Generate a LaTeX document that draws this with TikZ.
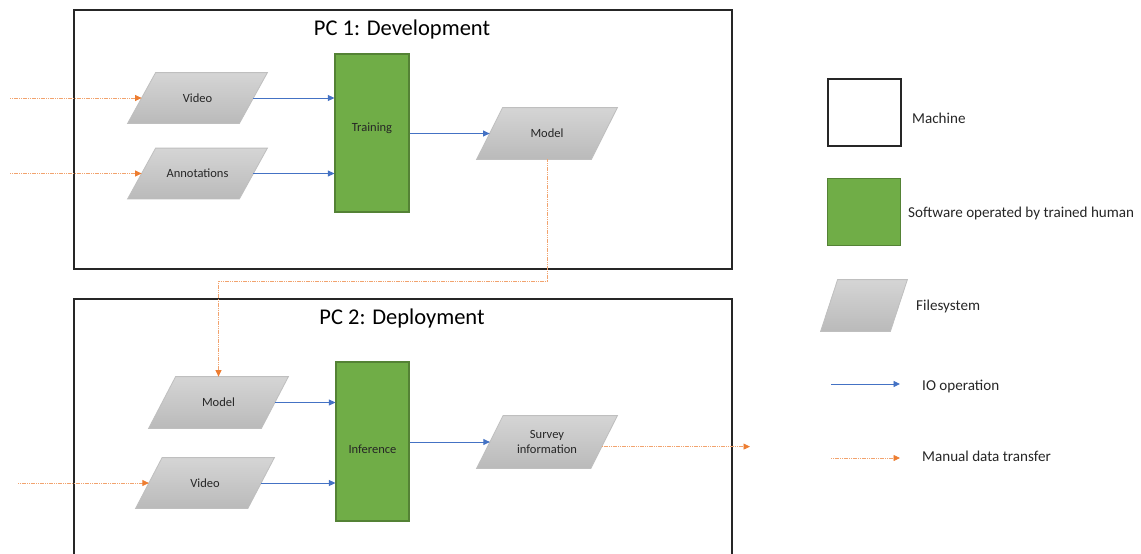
\documentclass[tikz,border=0pt]{standalone}
\usepackage{fontspec}
\setmainfont{Carlito}
\usetikzlibrary{arrows.meta,calc}

\definecolor{ioblue}{HTML}{4472C4}
\definecolor{manorange}{HTML}{ED7D31}
\definecolor{manorangelight}{HTML}{F2A36E}
\definecolor{swgreen}{HTML}{70AD47}
\definecolor{swgreenedge}{HTML}{548235}
\definecolor{fsedge}{HTML}{BFBFBF}
\definecolor{fstop}{HTML}{D5D5D5}
\definecolor{fsbottom}{HTML}{BABABA}
\definecolor{boxedge}{HTML}{262626}
\definecolor{txt}{HTML}{262626}

\newcommand\dgnodefont{\fontsize{12.5}{15}\selectfont}
\newcommand\dglegendfont{\fontsize{15.1}{17}\selectfont}
\newcommand\dgtitlefont{\fontsize{22.5}{26}\selectfont}

% A parallelogram leaning to the right: the body is a rectangle whose
% left/right edges become slanted by +/- "slant half" at top/bottom.
% Its west/east anchors are then the midpoints of the slanted sides.
\makeatletter
\pgfkeys{/pgf/slant half/.initial=14pt}
\pgfdeclareshape{slantbox}{%
  \inheritsavedanchors[from=rectangle]%
  \inheritanchorborder[from=rectangle]%
  \inheritanchor[from=rectangle]{center}%
  \inheritanchor[from=rectangle]{north}%
  \inheritanchor[from=rectangle]{south}%
  \inheritanchor[from=rectangle]{east}%
  \inheritanchor[from=rectangle]{west}%
  \inheritanchor[from=rectangle]{mid}%
  \inheritanchor[from=rectangle]{base}%
  \backgroundpath{%
    \pgfmathsetlength\pgf@xc{\pgfkeysvalueof{/pgf/slant half}}%
    \southwest \pgf@xa=\pgf@x \pgf@ya=\pgf@y
    \northeast \pgf@xb=\pgf@x \pgf@yb=\pgf@y
    \pgfpathmoveto{\pgfqpoint{\dimexpr\pgf@xa-\pgf@xc\relax}{\pgf@ya}}%
    \pgfpathlineto{\pgfqpoint{\dimexpr\pgf@xb-\pgf@xc\relax}{\pgf@ya}}%
    \pgfpathlineto{\pgfqpoint{\dimexpr\pgf@xb+\pgf@xc\relax}{\pgf@yb}}%
    \pgfpathlineto{\pgfqpoint{\dimexpr\pgf@xa+\pgf@xc\relax}{\pgf@yb}}%
    \pgfpathclose
  }%
}
\makeatother

\begin{document}
\begin{tikzpicture}[x=1pt,y=-1pt,
  machine/.style={draw=boxedge,line width=1.7pt,fill=white,inner sep=0pt,anchor=north west},
  software/.style={draw=swgreenedge,line width=1.2pt,fill=swgreen,inner sep=0pt,
    font=\dgnodefont,text=txt},
  filesys/.style={shape=slantbox,/pgf/slant half=14pt,draw=fsedge,line width=0.8pt,
    top color=fstop,bottom color=fsbottom,minimum height=50pt,minimum width=111pt,
    inner sep=0pt,font=\dgnodefont,text=txt,align=center},
  io/.style={draw=ioblue,line width=0.9pt,-{Triangle[length=6.5pt,width=6pt]}},
  manual/.style={draw=manorangelight,line width=0.8pt,dash pattern=on 1.2pt off 0.6pt,
    -{Triangle[length=6.5pt,width=6pt,color=manorange,fill=manorange]}},
  title/.style={font=\dgtitlefont,text=black,anchor=base,inner sep=0pt},
  legend/.style={font=\dglegendfont,text=txt,anchor=base west,inner sep=0pt}
]
\useasboundingbox (0,0) rectangle (1141,554);
\clip (0,0) rectangle (1141,554);

% ---------- PC 1: development machine ----------
\node[machine,minimum width=658pt,minimum height=259pt] (pc1) at (73,9) {};
\node[title] (pc1title) at (402,35.5) {PC 1: Development};

\node[filesys] (vid1) at (197.5,98) {Video};
\node[filesys] (ann) at (197.5,173.5) {Annotations};
\node[software,minimum width=74pt,minimum height=158pt] (train) at (372,133)
  {\raisebox{1.5pt}[0pt][0pt]{Training}};
\node[filesys,/pgf/slant half=13pt,minimum width=114pt,minimum height=51pt] (mod1)
  at (547,133.5) {Model};

\coordinate (in1) at (10,98);
\coordinate (in2) at (10,173.5);
\draw[manual] (in1) -- (vid1.west);
\draw[manual] (in2) -- (ann.west);
\draw[io] (vid1.east) -- (vid1.east -| train.west);
\draw[io] (ann.east) -- (ann.east -| train.west);
\draw[io] (mod1.west -| train.east) -- (mod1.west);

% ---------- PC 2: deployment machine ----------
\node[machine,minimum width=658pt,minimum height=300pt] (pc2) at (73,298) {};
\node[title] (pc2title) at (402,324) {PC 2: Deployment};

\node[filesys,/pgf/slant half=13.5pt,minimum width=112pt,minimum height=51pt] (mod2)
  at (218.5,402.5) {Model};
\node[filesys,/pgf/slant half=13.25pt,minimum width=111.5pt] (vid2) at (205,483) {Video};
\node[software,minimum width=73pt,minimum height=159pt] (infer) at (372.5,441.5)
  {\raisebox{-12pt}[0pt][0pt]{Inference}};
\node[filesys,/pgf/slant half=13.25pt,minimum width=113.5pt,minimum height=52pt] (survey)
  at (547,442) {Survey\\information};

\coordinate (in3) at (18,483);
\coordinate (out) at (750,446.6);
\coordinate (turn) at (218.5,281);
\draw[manual] (mod1.south) |- (turn) -- (mod2.north);
\draw[manual] (in3) -- (vid2.west);
\draw[io] (mod2.east) -- (mod2.east -| infer.west);
\draw[io] (vid2.east) -- (vid2.east -| infer.west);
\draw[io] (survey.west -| infer.east) -- (survey.west);
\draw[manual] ($(survey.east)+(-2.4,4.6)$) -- (out);

% ---------- legend ----------
\node[machine,line width=1.5pt,minimum width=73pt,minimum height=67pt] (lgmachine)
  at (827,78) {};
\node[legend] (lgmachinetxt) at (912,123) {Machine};

\node[software,anchor=north west,minimum width=73pt,minimum height=67pt] (lgsoft)
  at (827,178) {};
\node[legend] (lgsofttxt) at (908,217) {Software operated by trained human};

\node[filesys,/pgf/slant half=8.5pt,minimum width=69pt,minimum height=51pt] (lgfs)
  at (864,305.5) {};
\node[legend] (lgfstxt) at (916,310.7) {Filesystem};

\coordinate (lgioa) at (831,384);
\coordinate (lgiob) at (900,384);
\draw[io] (lgioa) -- (lgiob);
\node[legend] (lgiotxt) at (922,390.5) {IO operation};

\coordinate (lgmana) at (831,458);
\coordinate (lgmanb) at (900,458);
\draw[manual] (lgmana) -- (lgmanb);
\node[legend] (lgmantxt) at (922,461.7) {Manual data transfer};
\end{tikzpicture}
\end{document}
